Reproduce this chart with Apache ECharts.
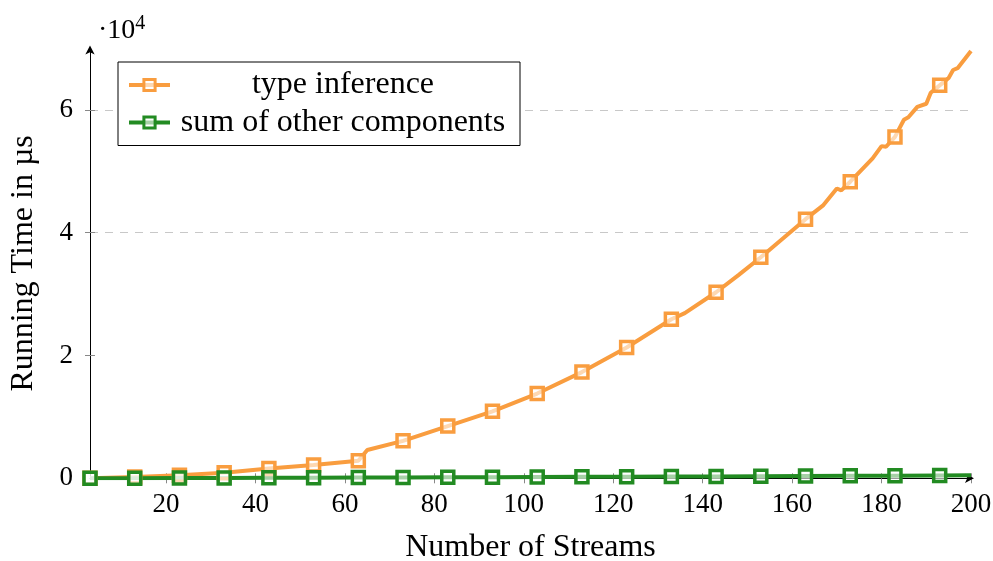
<!DOCTYPE html>
<html>
<head>
<meta charset="utf-8">
<title>Running time vs number of streams</title>
<script src="https://cdn.jsdelivr.net/npm/echarts@6/dist/echarts.min.js"></script>
<style>
  html, body { margin: 0; padding: 0; background: #fff; }
  #chart { width: 993px; height: 561px; }
</style>
</head>
<body>
<div id="chart"></div>
<script>
// Number of streams at which a marker is drawn
const markerX = [3, 13, 23, 33, 43, 53, 63, 73, 83, 93, 103, 113, 123, 133, 143, 153, 163, 173, 183, 193];

// Type inference running time (µs)
const inferenceX = [3, 13, 23, 33, 43, 53, 63, 65, 73, 83, 93, 103, 113, 123, 133, 136, 143, 148, 153, 163,
  167, 170, 171, 173, 178, 180, 181, 183, 185, 186, 188, 190, 191, 193, 195, 196, 197, 200];
const inferenceY = [0, 200, 500, 900, 1600, 2150, 2850, 4600, 6100, 8500, 10900, 13800, 17300, 21300, 25900, 26900, 30300, 33100, 36000, 42200,
  44500, 47200, 46900, 48300, 52100, 54100, 54000, 55600, 58400, 58800, 60500, 61000, 62800, 64000, 65200, 66500, 66800, 69600];

// Sum of the other components (µs)
const otherX = [3, 13, 23, 33, 43, 53, 63, 73, 83, 93, 103, 113, 123, 133, 143, 153, 163, 173, 183, 193, 200];
const otherY = [10, 20, 40, 60, 80, 100, 130, 150, 170, 190, 210, 240, 260, 290, 310, 340, 370, 400, 430, 470, 500];

// Axis ticks
const xTicks = [20, 40, 60, 80, 100, 120, 140, 160, 180, 200];
const yTicks = [0, 20000, 40000, 60000];

const seriesNames = ['type inference', 'sum of other components'];
const colors = ['#F99D3F', '#228B22'];

const FONT = 'Liberation Serif';

function pairs(xs, ys) { return xs.map((x, i) => [x, ys[i]]); }
const markSize = v => (markerX.includes(v[0]) ? 12 : 0);

const chart = echarts.init(document.getElementById('chart'), null, { renderer: 'canvas', width: 993, height: 561 });

const lineSeries = (name, xs, ys, color) => ({
  name: name,
  type: 'line',
  data: pairs(xs, ys),
  xAxisIndex: 0,
  yAxisIndex: 0,
  symbol: 'rect',
  symbolSize: markSize,
  showSymbol: true,
  animation: false,
  lineStyle: { color: color, width: 4 },
  itemStyle: { color: 'rgba(255,255,255,0.6)', borderColor: color, borderWidth: 3.5 },
  emphasis: { disabled: true },
  z: 3
});

chart.setOption({
  animation: false,
  textStyle: { fontFamily: FONT, color: '#000' },
  title: {
    text: '·10{sup|4}',
    left: 93,
    top: 9,
    textStyle: {
      fontFamily: FONT, fontSize: 28, fontWeight: 'normal', color: '#000',
      rich: { sup: { fontFamily: FONT, fontSize: 20, verticalAlign: 'top', padding: [0, 0, 14, 0], color: '#000' } }
    }
  },
  legend: {
    orient: 'vertical',
    left: 118,
    top: 62,
    data: seriesNames,
    backgroundColor: '#fff',
    borderColor: '#000',
    borderWidth: 1,
    borderRadius: 0,
    padding: [7, 9, 7, 9],
    itemGap: 5.5,
    itemWidth: 41,
    itemHeight: 14,
    selectedMode: false,
    lineStyle: { width: 4 },
    itemStyle: { borderWidth: 3 },
    formatter: name => '{t|' + name + '}',
    textStyle: {
      fontFamily: FONT,
      color: '#000',
      rich: { t: { fontFamily: FONT, fontSize: 32, width: 336, align: 'center', lineHeight: 34, color: '#000' } }
    }
  },
  grid: { left: 90, right: 22, top: 48.5, height: 429.8, containLabel: false, outerBoundsMode: 'none' },
  xAxis: [
    {
      type: 'value',
      min: 3,
      max: 200,
      name: 'Number of Streams',
      nameLocation: 'middle',
      nameGap: 53,
      nameTextStyle: { fontFamily: FONT, fontSize: 32, color: '#000' },
      axisLine: { show: true, lineStyle: { color: '#000', width: 1 }, symbol: ['none', 'arrow'], symbolSize: [7, 9], symbolOffset: [0, 3] },
      axisTick: { show: true, inside: false, length: 5, customValues: xTicks, lineStyle: { color: '#888', width: 1 } },
      axisLabel: { show: true, customValues: xTicks, fontFamily: FONT, fontSize: 27, color: '#000', margin: 13 },
      splitLine: { show: false }
    },
    {
      type: 'value',
      min: 3,
      max: 200,
      position: 'bottom',
      axisLine: { show: false },
      axisTick: { show: true, inside: true, length: 5, customValues: xTicks, lineStyle: { color: '#888', width: 1 } },
      axisLabel: { show: false },
      splitLine: { show: false }
    }
  ],
  yAxis: [
    {
      type: 'value',
      min: 0,
      max: 70000,
      interval: 20000,
      name: 'Running Time in µs',
      nameLocation: 'middle',
      nameGap: 50,
      nameTextStyle: { fontFamily: FONT, fontSize: 32, color: '#000' },
      axisLine: { show: true, lineStyle: { color: '#000', width: 1 }, symbol: ['none', 'arrow'], symbolSize: [7, 9], symbolOffset: [0, 3] },
      axisTick: { show: true, inside: false, length: 5, customValues: yTicks.slice(1), lineStyle: { color: '#888', width: 1 } },
      axisLabel: {
        show: true, customValues: yTicks, fontFamily: FONT, fontSize: 27, color: '#000', margin: 17,
        formatter: v => String(v / 10000)
      },
      splitLine: {
        show: true,
        lineStyle: { color: ['rgba(0,0,0,0)', '#c8c8c8', '#c8c8c8', '#c8c8c8', 'rgba(0,0,0,0)'], width: 1.2, type: [8, 7] }
      }
    },
    {
      type: 'value',
      min: 0,
      max: 70000,
      interval: 20000,
      position: 'left',
      axisLine: { show: false },
      axisTick: { show: true, inside: true, length: 5, customValues: yTicks.slice(1), lineStyle: { color: '#888', width: 1 } },
      axisLabel: { show: false },
      splitLine: { show: false }
    }
  ],
  series: [
    lineSeries(seriesNames[0], inferenceX, inferenceY, colors[0]),
    lineSeries(seriesNames[1], otherX, otherY, colors[1])
  ]
});
</script>
</body>
</html>
